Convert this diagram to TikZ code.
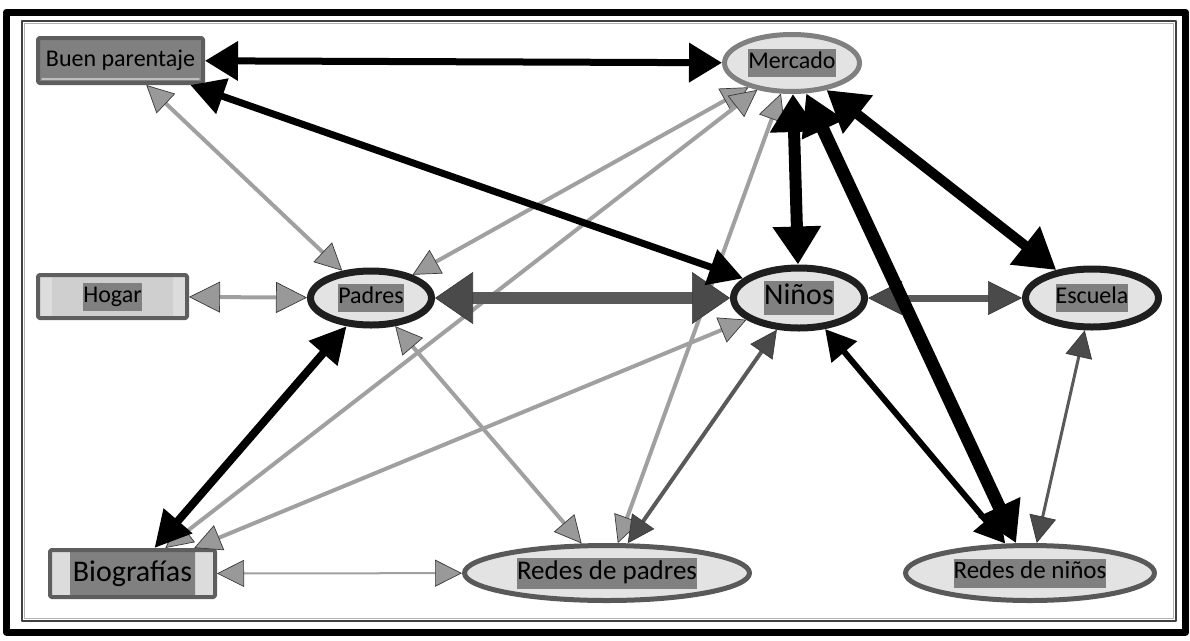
\documentclass[tikz,border=0pt]{standalone}
\usepackage{fontspec}
\setmainfont{Carlito}
\usetikzlibrary{arrows.meta,shapes.geometric}

\definecolor{hlgray}{HTML}{808080}
\definecolor{ovalfill}{HTML}{E3E3E3}
\definecolor{boxedge}{HTML}{5E5E5E}
\definecolor{stripfill}{HTML}{DCDCDC}
\definecolor{midfill}{HTML}{CFCFCF}
\definecolor{edgelite}{HTML}{A0A0A0}
\definecolor{tiplite}{HTML}{999999}
\definecolor{edgedark}{HTML}{595959}
\definecolor{tipdark}{HTML}{4A4A4A}
\definecolor{tipedge}{HTML}{3A3A3A}

% gray band behind every label
\newcommand\hl[1]{{\setlength{\fboxsep}{0pt}\colorbox{hlgray}{\strut #1}}}

\begin{document}
\begin{tikzpicture}[x=1pt,y=-1pt,line cap=round,line join=round,
    oval/.style={ellipse,draw,fill=ovalfill,inner sep=0pt,font=\fontsize{24}{28}\selectfont},
    box/.style={rectangle,draw=boxedge,line width=4pt,rounded corners=1.5pt,inner sep=0pt,
      font=\fontsize{24}{28}\selectfont},
    litelink/.style={draw=edgelite,line width=4pt,
      {Triangle[length=#1,width=#1,fill=tiplite,color=tipedge,line width=.7pt]}-{Triangle[length=#1,width=#1,fill=tiplite,color=tipedge,line width=.7pt]}},
    litelink/.default=27pt,
    darklink/.style 2 args={draw=edgedark,line width=#1,
      {Triangle[length=#2,width=#2,fill=tipdark,color=tipedge,line width=.7pt]}-{Triangle[length=#2,width=#2,fill=tipdark,color=tipedge,line width=.7pt]}},
    blacklink/.style n args={3}{draw=black,line width=#1,
      {Triangle[length=#2,width=#3]}-{Triangle[length=#2,width=#3]}}]
  \useasboundingbox (0,0) rectangle (1190,640);

  % frame
  \draw[line width=7pt] (6.5,12) rectangle (1185.5,632);
  \draw[black!75,line width=1.2pt] (22,21) rectangle (1176,621);
  \draw[black!30,line width=1.5pt] (24.5,23.5) rectangle (1173.5,618.5);

  % nodes
  \node[box,fill=hlgray,minimum width=165,minimum height=45,
    path picture={\draw[black!25,line width=1.5pt]
      ([shift={(4pt,4pt)}]path picture bounding box.south west)
      -- ([shift={(-4pt,4pt)}]path picture bounding box.south east);}]
    (bp) at (120.5,60.5) {Buen parentaje};
  \node[box,fill=stripfill,minimum width=149,minimum height=43,
    path picture={\fill[midfill] ([xshift=14pt]path picture bounding box.south west)
      rectangle ([xshift=-14pt]path picture bounding box.north east);}]
    (hogar) at (112.5,296.5) {\hl{Hogar}};
  \node[box,fill=stripfill,minimum width=165,minimum height=47,font=\fontsize{30}{34}\selectfont,
    path picture={\fill[hlgray] ([xshift=20pt]path picture bounding box.south west)
      rectangle ([xshift=-20pt]path picture bounding box.north east);}]
    (bio) at (132.5,573.5) {Biografías};
  \node[oval,draw=hlgray,line width=5pt,minimum width=135,minimum height=57] (merc) at (792,63)
    {\hl{Mercado}};
  \node[oval,draw=black!88,line width=7pt,minimum width=121,minimum height=54] (padres) at (371,298)
    {\hl{Padres}};
  \node[oval,draw=black!88,line width=7pt,minimum width=131,minimum height=60,
    font=\fontsize{30}{34}\selectfont] (ninos) at (799,298) {\hl{Niños}};
  \node[oval,draw=black!88,line width=7pt,minimum width=133,minimum height=58] (escuela) at (1092,298)
    {\hl{Escuela}};
  \node[oval,draw=black!65,line width=5pt,minimum width=285,minimum height=55,
    font=\fontsize{27}{31}\selectfont] (rpad) at (607,573) {\hl{Redes de padres}};
  \node[oval,draw=black!65,line width=5pt,minimum width=249,minimum height=55,
    font=\fontsize{25}{29}\selectfont] (rnin) at (1030,573) {\hl{Redes de niños}};

  % light links
  \draw[litelink] (bp) -- (padres);
  \draw[litelink=31pt] (hogar) -- (padres);
  \draw[litelink] (merc) -- (padres);
  \draw[litelink] (bio) -- (merc);
  \draw[litelink] (bio) -- (ninos);
  \draw[litelink] (padres) -- (rpad);
  \draw[litelink] (merc) -- (rpad);
  \draw[litelink,line width=2pt] (bio) -- (rpad);

  % dark links
  \draw[darklink={4pt}{27pt}] (ninos) -- (rpad);
  \draw[darklink={3pt}{27pt}] (escuela) -- (rnin);
  \draw[darklink={7pt}{34pt}] (ninos) -- (escuela);
  \draw[draw=edgedark,line width=12pt,
    {Triangle[length=38pt,width=52pt,fill=tipdark,color=tipedge,line width=.7pt]}-{Triangle[length=38pt,width=52pt,fill=tipdark,color=tipedge,line width=.7pt]}]
    (padres) -- (ninos);

  % black links
  \draw[blacklink={7pt}{33pt}{38pt}] (bp) -- (merc);
  \draw[blacklink={7pt}{34pt}{36pt}] (bp) -- (ninos);
  \draw[blacklink={8pt}{36pt}{36pt}] (bio) -- (padres);
  \draw[blacklink={6pt}{30pt}{32pt}] (ninos) -- (rnin);
  \draw[blacklink={10pt}{40pt}{46pt}] (merc) -- (escuela);
  \draw[blacklink={12pt}{38pt}{46pt}] (merc) -- (ninos);
  \draw[blacklink={13pt}{40pt}{44pt}] (merc) -- (rnin);
\end{tikzpicture}
\end{document}
